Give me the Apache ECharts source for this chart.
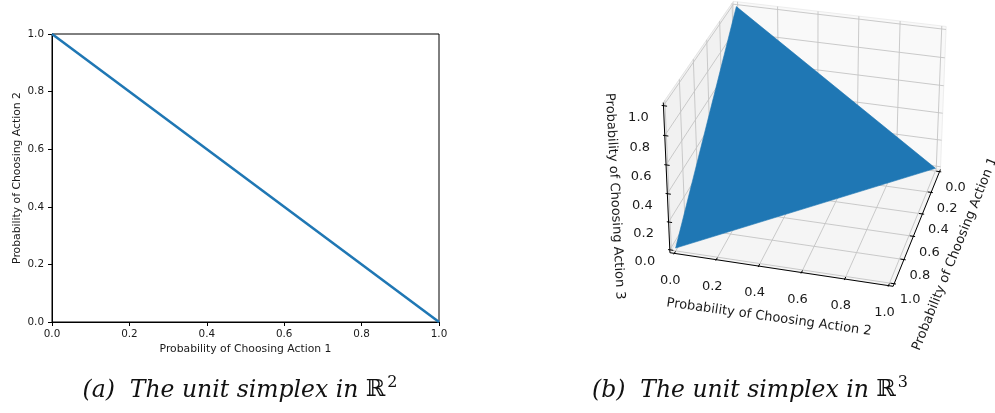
<!DOCTYPE html>
<html><head><meta charset="utf-8">
<script src="https://cdn.jsdelivr.net/npm/echarts@6/dist/echarts.min.js"></script>
<style>html,body{margin:0;padding:0;background:#fff}#c{width:995px;height:413px}</style>
</head><body><div id="c"></div>
<script>
// ---------------- data ----------------
const line2dX = [0, 1];
const line2dY = [1, 0];
const axisTicks = [0, 0.2, 0.4, 0.6, 0.8, 1.0];
const simplexVertices = [[1, 0, 0], [0, 1, 0], [0, 0, 1]];
const axisNames2d = ['Probability of Choosing Action 1', 'Probability of Choosing Action 2'];
const axisNames3d = ['Probability of Choosing Action 1', 'Probability of Choosing Action 2', 'Probability of Choosing Action 3'];
const captionLabels = ['(a)', '(b)'];
const captionText = 'The unit simplex in ';
const captionDims = ['2', '3'];

// ---------------- 3D view (matplotlib-like perspective) ----------------
const VIEW = { elev: 30, azim: 15, dist: 10, aspect: [4, 4, 3], S: 1894, cx: 810, cy: 138 };
const PAD = 1 / 48, LO = -PAD, HI = 1 + PAD;
function makeProj(v) {
  const n = Math.hypot(v.aspect[0], v.aspect[1], v.aspect[2]);
  const A = v.aspect.map(a => a * 1.8294640721620434 / n);
  const R = A.map(a => a / 2);
  const e = v.elev * Math.PI / 180, az = v.azim * Math.PI / 180;
  const w = [Math.cos(e) * Math.cos(az), Math.cos(e) * Math.sin(az), Math.sin(e)];
  const u = [-Math.sin(az), Math.cos(az), 0];
  const vv = [w[1] * u[2] - w[2] * u[1], w[2] * u[0] - w[0] * u[2], w[0] * u[1] - w[1] * u[0]];
  return function (p) {
    const q = [A[0] * p[0] - R[0], A[1] * p[1] - R[1], A[2] * p[2] - R[2]];
    const xv = u[0] * q[0] + u[1] * q[1] + u[2] * q[2];
    const yv = vv[0] * q[0] + vv[1] * q[1] + vv[2] * q[2];
    const zz = v.dist - (w[0] * q[0] + w[1] * q[1] + w[2] * q[2]);
    return [v.cx + v.S * xv / zz, v.cy - v.S * yv / zz];
  };
}
const proj = makeProj(VIEW);
const FONT = 'DejaVu Sans';
const GRIDC = '#c4c4c4';
const F3 = 13;

function seg(a, b, style) {
  const p = proj(a), q = proj(b);
  return { type: 'line', shape: { x1: p[0], y1: p[1], x2: q[0], y2: q[1] }, style: style };
}
function poly(pts, style) {
  return { type: 'polygon', shape: { points: pts.map(proj) }, style: style };
}
function txt(pt, off, text, size, rot) {
  const p = proj(pt);
  return { type: 'text', x: p[0] + off[0], y: p[1] + off[1], rotation: (rot || 0) * Math.PI / 180,
    style: { text: text, fontSize: size, fontFamily: FONT, fill: '#1a1a1a', align: 'center', verticalAlign: 'middle' } };
}

const capStyle = { fontFamily: 'DejaVu Serif', fontWeight: 'normal', color: '#111', lineHeight: 28 };
const option = {
  animation: false,
  backgroundColor: '#fff',
  grid: [{ left: 52, top: 34, width: 387, height: 288, show: true, borderColor: '#000', borderWidth: 1, backgroundColor: 'transparent' }],
  xAxis: [{
    type: 'value', min: 0, max: 1, interval: 0.2, gridIndex: 0,
    name: axisNames2d[0], nameLocation: 'middle', nameGap: 21,
    nameTextStyle: { fontSize: 10.8, fontFamily: FONT, color: '#1a1a1a' },
    axisLine: { lineStyle: { color: '#000', width: 1 } },
    axisTick: { length: 4, lineStyle: { color: '#000', width: 1 } },
    axisLabel: { fontSize: 10.4, fontFamily: FONT, color: '#1a1a1a', margin: 7, formatter: v => v.toFixed(1) },
    splitLine: { show: false }
  }],
  yAxis: [{
    type: 'value', min: 0, max: 1, interval: 0.2, gridIndex: 0,
    name: axisNames2d[1], nameLocation: 'middle', nameGap: 29,
    nameTextStyle: { fontSize: 10.8, fontFamily: FONT, color: '#1a1a1a' },
    axisLine: { lineStyle: { color: '#000', width: 1 } },
    axisTick: { length: 4, lineStyle: { color: '#000', width: 1 } },
    axisLabel: { fontSize: 10.4, fontFamily: FONT, color: '#1a1a1a', margin: 8, formatter: v => v.toFixed(1) },
    splitLine: { show: false }
  }],
  title: captionLabels.map((lab, i) => ({
    text: '{i|' + lab + '  ' + captionText + '}{r|ℝ}{s|' + captionDims[i] + '}',
    left: i === 0 ? 235 : 745, top: 369, textAlign: 'center',
    textStyle: {
      fontWeight: 'normal',
      rich: {
        i: Object.assign({}, capStyle, { fontStyle: 'italic', fontSize: 23.5, verticalAlign: 'bottom' }),
        r: Object.assign({}, capStyle, { fontSize: 23.5, verticalAlign: 'bottom' }),
        s: Object.assign({}, capStyle, { fontSize: 16, verticalAlign: 'top', padding: [1, 0, 0, 2] })
      }
    }
  })),
  series: [
    {
      type: 'line', xAxisIndex: 0, yAxisIndex: 0, symbol: 'none',
      data: line2dX.map((x, i) => [x, line2dY[i]]),
      lineStyle: { color: '#1f77b4', width: 2.6 }, z: 3
    },
    { // panes
      type: 'custom', coordinateSystem: 'none', z: 1, data: [[0]],
      renderItem: () => ({
        type: 'group', children: [
          poly([[LO, LO, LO], [HI, LO, LO], [HI, HI, LO], [LO, HI, LO]], { fill: '#f5f5f5', stroke: '#f0f0f0', lineWidth: 1 }),
          poly([[LO, LO, LO], [LO, HI, LO], [LO, HI, HI], [LO, LO, HI]], { fill: '#f9f9f9', stroke: '#eeeeee', lineWidth: 1 }),
          poly([[LO, LO, LO], [HI, LO, LO], [HI, LO, HI], [LO, LO, HI]], { fill: '#f1f1f1', stroke: '#e4e4e4', lineWidth: 1 })
        ]
      })
    },
    { // grid lines, one item per tick value
      type: 'custom', coordinateSystem: 'none', z: 2, data: axisTicks.map(t => [t]),
      renderItem: (params, api) => {
        const t = api.value(0);
        const st = { stroke: GRIDC, lineWidth: 0.9 };
        return {
          type: 'group', children: [
            seg([t, LO, LO], [t, HI, LO], st), seg([LO, t, LO], [HI, t, LO], st),
            seg([LO, t, LO], [LO, t, HI], st), seg([LO, LO, t], [LO, HI, t], st),
            seg([t, LO, LO], [t, LO, HI], st), seg([LO, LO, t], [HI, LO, t], st)
          ]
        };
      }
    },
    { // axis lines
      type: 'custom', coordinateSystem: 'none', z: 4, data: [[0]],
      renderItem: () => {
        const st = { stroke: '#000', lineWidth: 1 };
        return {
          type: 'group', children: [
            seg([LO, HI, LO], [HI, HI, LO], st),
            seg([HI, LO, LO], [HI, HI, LO], st),
            seg([HI, LO, LO], [HI, LO, HI], st)
          ]
        };
      }
    },
    { // ticks and tick labels
      type: 'custom', coordinateSystem: 'none', z: 6, data: axisTicks.map(t => [t]),
      renderItem: (params, api) => {
        const t = api.value(0);
        const st = { stroke: '#000', lineWidth: 1 };
        const o = 0.0083, n = 0.0167;
        const lab = t.toFixed(1);
        return {
          type: 'group', children: [
            seg([t, HI + o, LO], [t, HI - n, LO], st),
            seg([HI + o, t, LO], [HI - n, t, LO], st),
            seg([HI, LO - o, t], [HI, LO + n, t], st),
            txt([t, HI, LO], [16, 16], lab, F3),
            txt([HI, t, LO], [-4, 27], lab, F3),
            txt([HI, LO, t], [-25, 12], lab, F3)
          ]
        };
      }
    },
    { // the simplex triangle
      type: 'custom', coordinateSystem: 'none', z: 5,
      data: [simplexVertices.reduce((a, v) => a.concat(v), [])],
      renderItem: (params, api) => {
        const pts = [];
        for (let k = 0; k < 3; k++) pts.push([api.value(3 * k), api.value(3 * k + 1), api.value(3 * k + 2)]);
        return poly(pts, { fill: '#1f77b4', stroke: '#1f77b4', lineWidth: 0.6 });
      }
    },
    { // 3D axis names
      type: 'custom', coordinateSystem: 'none', z: 6, data: axisNames3d.map((s, i) => [i]),
      renderItem: (params, api) => {
        const i = api.value(0);
        if (i === 0) return txt([0.5, HI, LO], [37, 29], axisNames3d[0], F3, 68);
        if (i === 1) return txt([HI, 0.5, LO], [-11, 48], axisNames3d[1], F3, -8);
        return txt([HI, LO, 0.5], [-52, 17], axisNames3d[2], F3, -87);
      }
    }
  ]
};
const chart = echarts.init(document.getElementById('c'), null, { renderer: 'canvas' });
chart.setOption(option);
</script>
</body></html>
